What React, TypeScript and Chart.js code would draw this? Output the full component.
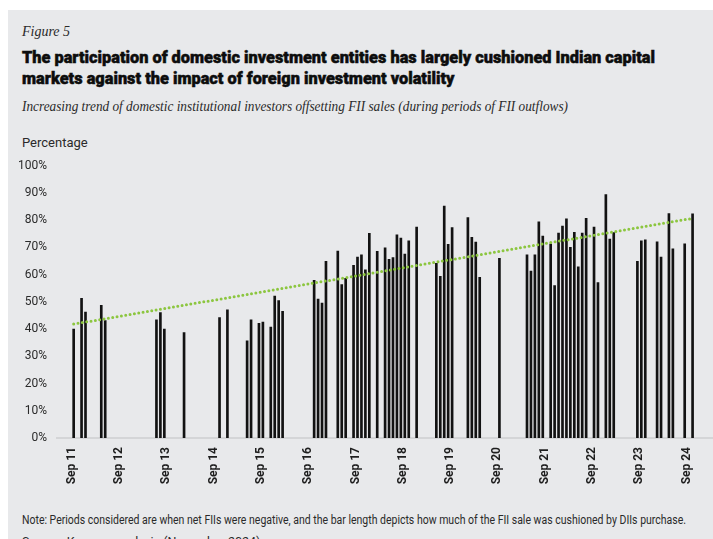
import React, { useEffect, useLayoutEffect, useRef } from "react";
import { Chart, registerables } from "chart.js";

Chart.register(...registerables);

// ---- data ----
const periods = [
  "Sep 11", "Nov 11", "Dec 11", "Apr 12", "May 12",
  "Jun 13", "Jul 13", "Aug 13", "Jan 14", "Oct 14", "Dec 14",
  "May 15", "Jun 15", "Aug 15", "Sep 15", "Nov 15", "Dec 15", "Jan 16", "Feb 16",
  "Oct 16", "Nov 16", "Dec 16", "Jan 17", "Apr 17", "May 17", "Jun 17",
  "Aug 17", "Sep 17", "Oct 17", "Nov 17", "Dec 17", "Feb 18", "Apr 18",
  "May 18", "Jun 18", "Jul 18", "Aug 18", "Sep 18", "Oct 18", "Dec 18",
  "May 19", "Jun 19", "Jul 19", "Aug 19", "Sep 19",
  "Jan 20", "Feb 20", "Mar 20", "Apr 20", "Sep 20",
  "Apr 21", "May 21", "Jun 21", "Jul 21", "Aug 21", "Oct 21", "Nov 21", "Dec 21",
  "Jan 22", "Feb 22", "Mar 22", "Apr 22", "May 22", "Jun 22", "Jul 22", "Sep 22", "Oct 22", "Dec 22",
  "Jan 23", "Feb 23", "Aug 23", "Sep 23", "Oct 23",
  "Jan 24", "Feb 24", "Apr 24", "May 24", "Aug 24", "Oct 24",
];
const diiShare = [
  40.0, 51.3, 46.2, 48.7, 43.1,
  43.4, 46.0, 40.0, 38.7, 44.2, 47.0,
  35.7, 43.4, 42.1, 42.5, 40.7, 52.1, 50.4, 46.5,
  57.9, 51.0, 49.5, 64.8, 68.6, 56.3, 58.6,
  63.4, 66.4, 67.2, 61.7, 75.1, 68.5, 69.8,
  65.6, 66.2, 74.6, 73.4, 67.5, 72.4, 77.4,
  64.1, 59.3, 85.1, 71.1, 77.2,
  80.9, 73.6, 71.9, 59.0, 65.9,
  67.2, 61.3, 67.2, 79.3, 74.1, 71.2, 55.9, 75.2,
  77.8, 80.4, 70.0, 75.5, 62.8, 75.2, 80.6, 77.4, 57.0, 89.3,
  73.0, 75.4, 64.8, 72.4, 72.7,
  72.0, 66.4, 82.4, 69.4, 71.3, 82.3,
];
const trendPeriods = ["Sep 11", "Oct 24"];
const trendValues = [41.8, 80.6];
const axisLabels = [
  "Sep 11", "Sep 12", "Sep 13", "Sep 14", "Sep 15", "Sep 16", "Sep 17",
  "Sep 18", "Sep 19", "Sep 20", "Sep 21", "Sep 22", "Sep 23", "Sep 24",
];
const yTicks = [0, 10, 20, 30, 40, 50, 60, 70, 80, 90, 100];

const MONTHS = ["Jan", "Feb", "Mar", "Apr", "May", "Jun", "Jul", "Aug", "Sep", "Oct", "Nov", "Dec"];
function monthIndex(p: string): number {
  const [m, y] = p.split(" ");
  return (2000 + Number(y) - 2011) * 12 + MONTHS.indexOf(m);
}

const BG = "rgb(232,233,235)";
const NARROW = '"Liberation Sans Narrow", "Roboto", sans-serif';

function FitLines({ lines, width, style }: { lines: string[]; width: number; style: React.CSSProperties }) {
  const refs = useRef<(HTMLSpanElement | null)[]>([]);
  useLayoutEffect(() => {
    const els = refs.current;
    els.forEach((e) => e && (e.style.transform = "none"));
    const first = els[0];
    if (!first) return;
    const w = first.getBoundingClientRect().width;
    if (w > 0) {
      const k = width / w;
      els.forEach((e) => e && (e.style.transform = `scaleX(${k})`));
    }
  }, [lines, width]);
  return (
    <div style={style}>
      {lines.map((l, i) => (
        <div key={i}>
          <span
            ref={(el) => {
              refs.current[i] = el;
            }}
            style={{ display: "inline-block", whiteSpace: "nowrap", transformOrigin: "left top" }}
          >
            {l}
          </span>
        </div>
      ))}
    </div>
  );
}

export default function App() {
  const canvasRef = useRef<HTMLCanvasElement>(null);

  useEffect(() => {
    const canvas = canvasRef.current;
    if (!canvas) return;
    const chart = new Chart(canvas, {
      type: "bar",
      data: {
        datasets: [
          {
            type: "line",
            data: trendPeriods.map((p, i) => ({ x: monthIndex(p) + 0.5, y: trendValues[i] })),
            borderColor: "#8cc63f",
            borderWidth: 3,
            borderDash: [0, 4.4],
            borderCapStyle: "round",
            pointRadius: 0,
            fill: false,
            order: 0,
          } as any,
          {
            type: "bar",
            data: periods.map((p, i) => ({ x: monthIndex(p) + 0.5, y: diiShare[i] })),
            backgroundColor: "#121212",
            borderWidth: 0,
            barThickness: 2,
            order: 1,
          } as any,
        ],
      },
      options: {
        animation: false,
        responsive: false,
        maintainAspectRatio: false,
        layout: { padding: { top: 35.5, left: 0, right: 0, bottom: 0 } },
        plugins: { legend: { display: false }, tooltip: { enabled: false } },
        scales: {
          x: {
            type: "linear",
            min: 4.27,
            max: 170.68,
            offset: false,
            grid: { display: false, drawTicks: false },
            border: { display: true, color: "#d4d5d7", width: 2 },
            afterBuildTicks: (s: any) => {
              s.ticks = axisLabels.map((l) => ({ value: monthIndex(l) }));
            },
            afterFit: (s: any) => {
              s.height = 52;
            },
            ticks: {
              autoSkip: false,
              maxRotation: 90,
              minRotation: 90,
              padding: 9,
              color: "#1e1e1e",
              font: { family: NARROW, size: 12, weight: "bold" },
              callback: (_v: any, i: number) => axisLabels[i],
            },
          },
          y: {
            min: 0,
            max: 100,
            grid: { display: false, drawTicks: false },
            border: { display: false },
            afterBuildTicks: (s: any) => {
              s.ticks = yTicks.map((v) => ({ value: v }));
            },
            afterFit: (s: any) => {
              s.width = 49;
            },
            ticks: {
              padding: 10,
              color: "#2a2a2a",
              font: { family: NARROW, size: 12 },
              callback: (v: any) => `${v}%`,
            },
          },
        },
      } as any,
    });
    return () => chart.destroy();
  }, []);

  return (
    <div
      style={{
        position: "fixed",
        left: 8,
        top: 10,
        width: 705,
        height: 529,
        background: BG,
        overflow: "hidden",
        color: "#111",
      }}
    >
      <div
        style={{
          position: "absolute",
          left: 14,
          top: 14.5,
          fontFamily: '"Liberation Serif", serif',
          fontStyle: "italic",
          fontSize: 14,
          lineHeight: "14px",
          color: "#2a2a2a",
        }}
      >
        Figure 5
      </div>
      <FitLines
        lines={[
          "The participation of domestic investment entities has largely cushioned Indian capital",
          "markets against the impact of foreign investment volatility",
        ]}
        width={633}
        style={{
          position: "absolute",
          left: 14,
          top: 36.6,
          fontFamily: "Roboto, sans-serif",
          fontWeight: 900,
          fontSize: 17,
          lineHeight: "21.7px",
          color: "#0d0d0d",
          WebkitTextStroke: "0.5px #0d0d0d",
        }}
      />
      <FitLines
        lines={["Increasing trend of domestic institutional investors offsetting FII sales (during periods of FII outflows)"]}
        width={546}
        style={{
          position: "absolute",
          left: 14,
          top: 89.1,
          fontFamily: '"Liberation Serif", serif',
          fontStyle: "italic",
          fontSize: 15,
          lineHeight: "15px",
          color: "#2a2a2a",
        }}
      />
      <div
        style={{
          position: "absolute",
          left: 14,
          top: 125.7,
          fontFamily: NARROW,
          fontSize: 13,
          lineHeight: "13px",
          color: "#2a2a2a",
        }}
      >
        Percentage
      </div>
      <div style={{ position: "absolute", left: 0, top: 120, width: 705, height: 360 }}>
        <canvas ref={canvasRef} width={705} height={360} />
      </div>
      <FitLines
        lines={[
          "Note: Periods considered are when net FIIs were negative, and the bar length depicts how much of the FII sale was cushioned by DIIs purchase.",
        ]}
        width={664}
        style={{
          position: "absolute",
          left: 14,
          top: 503.2,
          fontFamily: NARROW,
          fontSize: 12.5,
          lineHeight: "13px",
          color: "#2a2a2a",
        }}
      />
      <div
        style={{
          position: "absolute",
          left: 14,
          top: 525,
          fontFamily: NARROW,
          fontSize: 12.5,
          lineHeight: "13px",
          color: "#2a2a2a",
          whiteSpace: "nowrap",
        }}
      >
        Source: Kearney analysis (November 2024)
      </div>
    </div>
  );
}
